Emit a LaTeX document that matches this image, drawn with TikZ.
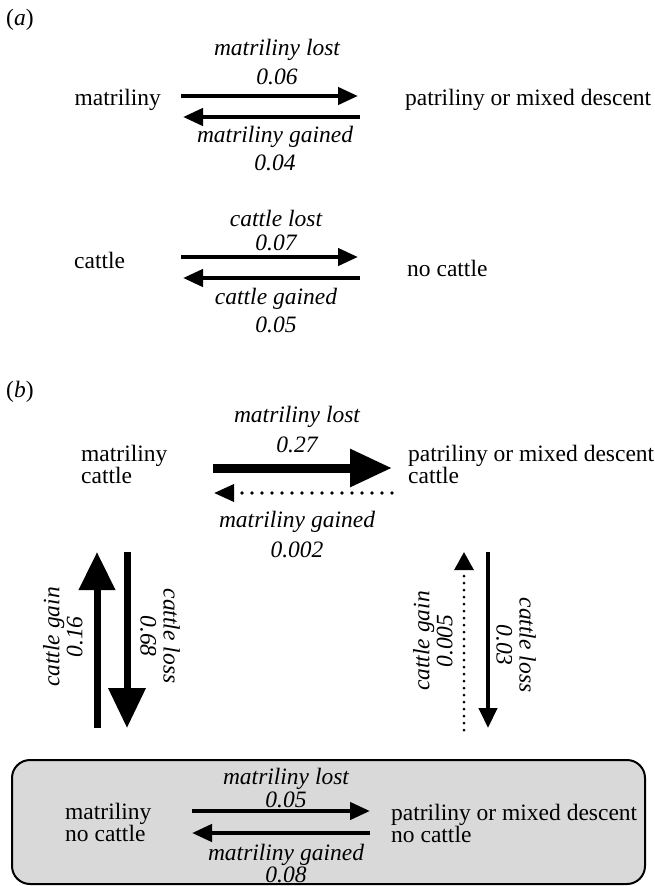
\documentclass[tikz,border=0pt]{standalone}
\usepackage{fontspec}
\setmainfont{Liberation Serif}
\usetikzlibrary{arrows.meta,positioning}
\tikzset{
  tag/.style     ={anchor=west,inner sep=0pt,font=\fontsize{23.5}{22}\selectfont},
  state/.style   ={anchor=west,align=left,inner sep=0pt,font=\fontsize{23.5}{22}\selectfont},
  rate/.style    ={align=center,inner sep=0pt,font=\fontsize{23.5}{22}\selectfont\itshape},
  thinflow/.style={line width=4.3pt,-{Triangle[length=20pt,width=17pt]}},
  midflow/.style ={line width=7pt,-{Triangle[length=38pt,width=35pt]}},
  bigflow/.style ={line width=9pt,-{Triangle[length=42pt,width=36pt]}},
  rareflow/.style={line width=3.6pt,line cap=round,dash pattern=on 0pt off 10pt,
                   -{Triangle[length=20pt,width=17pt]}},
  nocattle/.style={draw,line width=2pt,fill=black!15,rounded corners=18pt},
}
\begin{document}
\begin{tikzpicture}[x=1pt,y=-1pt]
  \useasboundingbox (0,0) rectangle (655,886);

  % (a) separate traits
  \node[tag] (tagA) at (6,20) {(\textit{a})};
  \node[state] (aMat)  at (74.5,100) {matriliny};
  \node[state] (aPat)  at (405,100)  {patriliny or mixed descent};
  \node[state] (aCat)  at (74,260)   {cattle};
  \node[state] (aNoCat) at (407,268) {no cattle};
  \coordinate (aMatR1) at (181,96);  \coordinate (aMatR2) at (358,96);
  \coordinate (aMatL1) at (360,117); \coordinate (aMatL2) at (183,117);
  \coordinate (aCatR1) at (181,257); \coordinate (aCatR2) at (358,257);
  \coordinate (aCatL1) at (360,278); \coordinate (aCatL2) at (183,278);
  \draw[thinflow] (aMatR1) -- (aMatR2);
  \draw[thinflow] (aMatL1) -- (aMatL2);
  \draw[thinflow] (aCatR1) -- (aCatR2);
  \draw[thinflow] (aCatL1) -- (aCatL2);
  \node[rate] (aMatLost)   at (277,62.5) {matriliny lost\\[7pt]0.06};
  \node[rate] (aMatGained) at (275,149)  {matriliny gained\\[6pt]0.04};
  \node[rate] (aCatLost)   at (276,231)  {cattle lost\\[2pt]0.07};
  \node[rate] (aCatGained) at (276,311)  {cattle gained\\[6pt]0.05};

  % (b) joint states
  \node[tag] (tagB) at (6,392) {(\textit{b})};
  \node[state] (bMatCat) at (81,464)  {matriliny\\cattle};
  \node[state] (bPatCat) at (408,464) {patriliny or mixed descent\\cattle};
  \coordinate (bTopR1) at (213,468); \coordinate (bTopR2) at (392,468);
  \coordinate (bTopL1) at (392,493); \coordinate (bTopL2) at (214,493);
  \draw[bigflow]  (bTopR1) -- (bTopR2);
  \draw[rareflow] (bTopL1) -- (bTopL2);
  \node[rate] (bTopLost)   at (297,430) {matriliny lost\\[8pt]0.27};
  \node[rate] (bTopGained) at (297,535) {matriliny gained\\[8pt]0.002};

  % cattle transitions
  \coordinate (bLUp1) at (97,728);   \coordinate (bLUp2) at (97,552);
  \coordinate (bLDn1) at (127,552);  \coordinate (bLDn2) at (127,728);
  \coordinate (bRUp1) at (464,730);  \coordinate (bRUp2) at (464,552);
  \coordinate (bRDn1) at (488,552);  \coordinate (bRDn2) at (488,728);
  \draw[midflow] (bLUp1) -- (bLUp2);
  \draw[midflow,-{Triangle[length=40pt,width=36pt]}] (bLDn1) -- (bLDn2);
  \draw[rareflow,line width=3pt,dash pattern=on 0pt off 7pt,
        -{Triangle[length=18pt,width=19pt]}] (bRUp1) -- (bRUp2);
  \draw[thinflow,-{Triangle[length=20pt,width=18pt]}] (bRDn1) -- (bRDn2);
  \node[rate,rotate=90]  (bLGain) at (63,637)  {cattle gain\\[1pt]0.16};
  \node[rate,rotate=-90] (bLLoss) at (160,636) {cattle loss\\[1pt]0.68};
  \node[rate,rotate=90]  (bRGain) at (433,641) {cattle gain\\[1pt]0.005};
  \node[rate,rotate=-90] (bRLoss) at (516,645) {cattle loss\\[1pt]0.03};

  % no cattle box
  \draw[nocattle] (12,760) rectangle (645,884);
  \node[state] (bMatNo) at (65,822)  {matriliny\\no cattle};
  \node[state] (bPatNo) at (391,823) {patriliny or mixed descent\\no cattle};
  \coordinate (bBotR1) at (192,811); \coordinate (bBotR2) at (370,811);
  \coordinate (bBotL1) at (370,833); \coordinate (bBotL2) at (192,833);
  \draw[thinflow] (bBotR1) -- (bBotR2);
  \draw[thinflow] (bBotL1) -- (bBotL2);
  \node[rate] (bBotLost)   at (286,788.5) {matriliny lost\\[1pt]0.05};
  \node[rate] (bBotGained) at (286,864)   {matriliny gained\\0.08};
\end{tikzpicture}
\end{document}
